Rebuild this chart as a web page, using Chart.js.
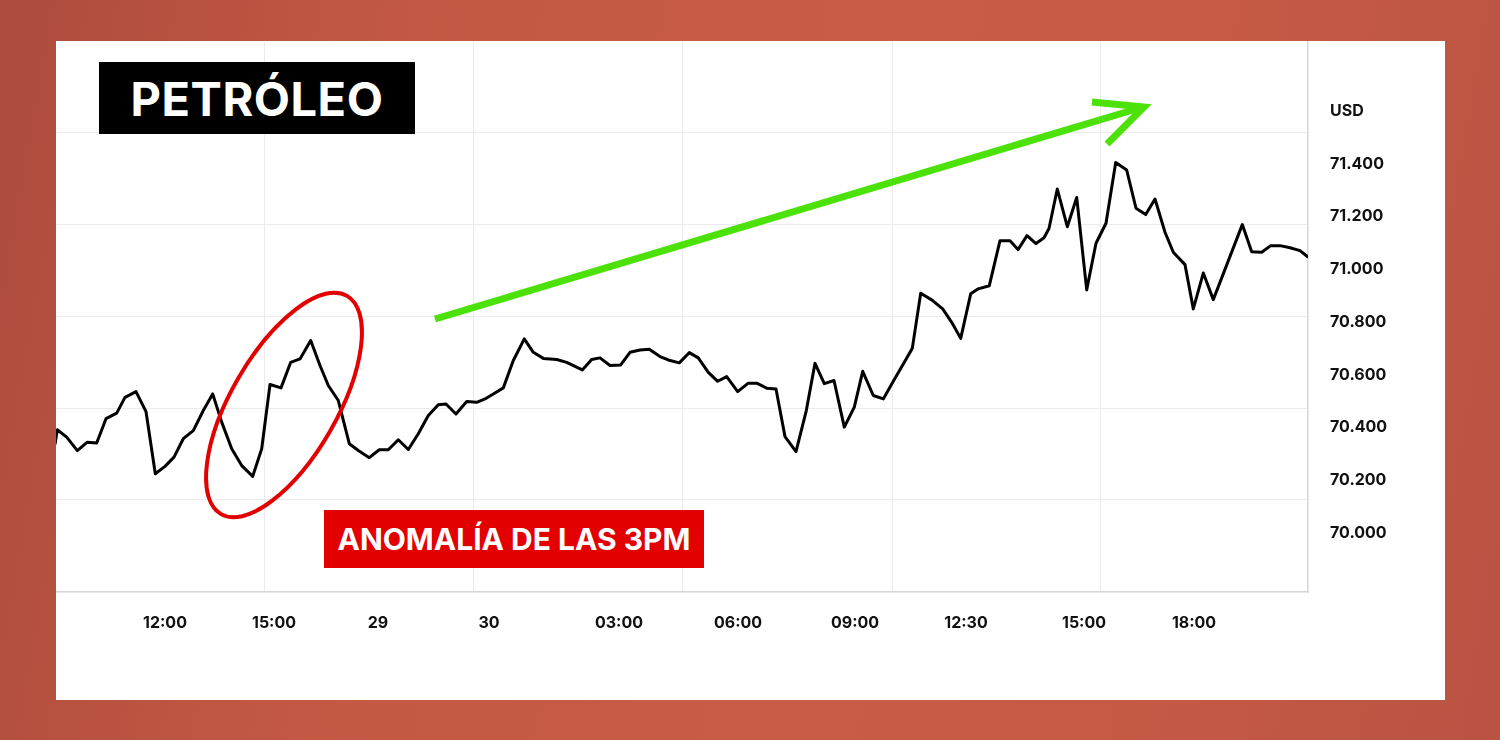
<!DOCTYPE html>
<html lang="es">
<head>
<meta charset="utf-8">
<title>Petróleo</title>
<script src="https://cdn.jsdelivr.net/npm/chart.js@4.4.0/dist/chart.umd.min.js"></script>
<style>
    html, body {
        margin: 0;
        padding: 0;
        width: 1500px;
        height: 740px;
        overflow: hidden;
    }
    body {
        position: relative;
        background: linear-gradient(100deg, #ad4c3d 0%, #c25843 25%, #c95c46 55%, #c65a45 75%, #b95343 100%);
        font-family: 'Inter', 'Noto Sans', sans-serif;
    }
    .card {
        position: absolute;
        left: 56px;
        top: 41px;
        width: 1389px;
        height: 659px;
        background: #fff;
    }
    .card canvas {
        position: absolute;
        left: 0;
        top: 0;
    }
    .tag {
        position: absolute;
        display: flex;
        align-items: center;
        justify-content: center;
        color: #fff;
        font-weight: 700;
        white-space: nowrap;
    }
    .tag.title {
        left: 99px;
        top: 62px;
        width: 316px;
        height: 72px;
        background: #000;
        font-size: 47px;
        letter-spacing: 0.5px;
    }
    .tag.note {
        left: 324px;
        top: 510px;
        width: 380px;
        height: 58px;
        background: #e30000;
        font-size: 30px;
    }
    svg.marks {
        position: absolute;
        left: 0;
        top: 0;
        pointer-events: none;
    }
</style>
</head>
<body>
<div class="card">
    <canvas id="chart" width="1389" height="659"></canvas>
</div>
<svg class="marks" width="1500" height="740">
    <ellipse cx="284" cy="405" rx="126" ry="53" transform="rotate(-60 284 405)"
             fill="none" stroke="#e20000" stroke-width="4"/>
    <line x1="435" y1="319" x2="1143" y2="107" stroke="#4de10a" stroke-width="7"/>
    <polyline points="1092,102 1144,107 1107,144" fill="none" stroke="#4de10a" stroke-width="7"/>
</svg>
<div class="tag title">PETRÓLEO</div>
<div class="tag note">ANOMALÍA DE LAS 3PM</div>

<script>
// position along the session (arbitrary time units) and oil price in USD
const timePos = [
    -0.2, 0.03, 0.97, 2.03, 3.03, 3.97, 4.9, 5.97, 6.8, 7.9,
    8.9, 9.83, 10.8, 11.7, 12.63, 13.63, 14.63, 15.57, 16.47, 17.47,
    18.47, 19.57, 20.47, 21.3, 22.4, 23.37, 24.3, 25.37, 26.3, 27.13,
    28.13, 29.23, 30.13, 31.23, 32.23, 33.13, 34.13, 35.13, 36.13, 37.13,
    38.13, 38.9, 39.9, 40.97, 41.97, 42.8, 43.63, 44.63, 45.63, 46.73,
    47.63, 48.63, 49.97, 50.97, 52.53, 53.47, 54.3, 55.3, 56.37, 57.3,
    58.3, 59.23, 60.3, 61.13, 62.23, 63.23, 64.13, 65.13, 66.07, 66.97,
    68.07, 69.13, 69.97, 70.97, 71.9, 72.8, 73.9, 74.93, 75.8, 76.73,
    77.7, 78.73, 79.73, 80.57, 81.63, 82.63, 83.63, 84.63, 85.53, 86.37,
    87.47, 88.57, 89.47, 90.37, 91.37, 92.13, 93.23, 94.3, 95.3, 96.1,
    97.0, 97.9, 98.7, 99.2, 100.03, 101.03, 101.97, 102.97, 103.9, 104.9,
    105.87, 106.97, 107.9, 108.87, 109.8, 110.8, 111.63, 112.8, 113.63, 114.63,
    115.63, 118.53, 119.47, 120.47, 121.37, 122.3, 123.3, 124.3, 125.13
];

const priceUsd = [
    70.335, 70.391, 70.363, 70.312, 70.344, 70.341, 70.433, 70.454, 70.514, 70.536,
    70.460, 70.224, 70.252, 70.287, 70.357, 70.388, 70.464, 70.527, 70.420, 70.319,
    70.255, 70.214, 70.319, 70.563, 70.550, 70.647, 70.660, 70.730, 70.635, 70.559,
    70.502, 70.338, 70.312, 70.285, 70.315, 70.315, 70.353, 70.316, 70.376, 70.445,
    70.486, 70.489, 70.451, 70.498, 70.495, 70.508, 70.527, 70.550, 70.654, 70.736,
    70.685, 70.662, 70.658, 70.647, 70.618, 70.658, 70.664, 70.635, 70.637, 70.685,
    70.694, 70.697, 70.669, 70.656, 70.645, 70.684, 70.664, 70.609, 70.575, 70.593,
    70.536, 70.568, 70.568, 70.549, 70.546, 70.365, 70.308, 70.464, 70.643, 70.566,
    70.578, 70.401, 70.477, 70.613, 70.521, 70.508, 70.575, 70.641, 70.700, 70.909,
    70.884, 70.850, 70.799, 70.738, 70.907, 70.926, 70.938, 71.109, 71.109, 71.075,
    71.128, 71.098, 71.120, 71.155, 71.305, 71.162, 71.273, 70.922, 71.099, 71.175,
    71.406, 71.377, 71.232, 71.208, 71.267, 71.141, 71.065, 71.018, 70.850, 70.986,
    70.885, 71.170, 71.067, 71.065, 71.090, 71.090, 71.082, 71.071, 71.046
];

// x axis labels and where they sit
const tickPos = [10.8, 21.7, 32.1, 43.2, 56.2, 68.1, 79.8, 90.9, 102.7, 113.7];
const tickLabels = ['12:00', '15:00', '29', '30', '03:00', '06:00', '09:00', '12:30', '15:00', '18:00'];

// y axis labels (the top slot holds the currency)
const priceTicks = [70.0, 70.2, 70.4, 70.6, 70.8, 71.0, 71.2, 71.4, 71.6];

// background grid, not aligned with the labels in the original
const gridTime = [20.7, 41.6, 62.5, 83.5, 104.3];
const gridPrice = [70.125, 70.472, 70.821, 71.169, 71.518];

const X_MIN = -0.1;
const X_MAX = 125.1;
const Y_MIN = 69.775;
const Y_MAX = 71.864;

const tickFont = { family: 'Inter', size: 16, weight: '700' };
const gridColor = '#ebebeb';

const points = timePos.map((t, i) => ({ x: t, y: priceUsd[i] }));

new Chart(document.getElementById('chart'), {
    type: 'line',
    data: {
        datasets: [{
            data: points,
            borderColor: '#000',
            borderWidth: 3,
            borderJoinStyle: 'round',
            pointRadius: 0,
            tension: 0,
            fill: false
        }]
    },
    options: {
        responsive: false,
        animation: false,
        layout: { padding: 0 },
        plugins: {
            legend: { display: false },
            tooltip: { enabled: false }
        },
        scales: {
            x: {
                type: 'linear',
                position: 'bottom',
                min: X_MIN,
                max: X_MAX,
                afterBuildTicks: (axis) => {
                    axis.ticks = tickPos.map((v) => ({ value: v }));
                },
                afterFit: (axis) => {
                    axis.height = 108;
                },
                grid: { drawOnChartArea: false, drawTicks: false },
                border: { color: '#d6d6d6', width: 1.5 },
                ticks: {
                    autoSkip: false,
                    maxRotation: 0,
                    padding: 22,
                    color: '#111',
                    font: tickFont,
                    callback: (value, index) => tickLabels[index]
                }
            },
            xGrid: {
                type: 'linear',
                position: 'top',
                min: X_MIN,
                max: X_MAX,
                afterBuildTicks: (axis) => {
                    axis.ticks = gridTime.map((v) => ({ value: v }));
                },
                afterFit: (axis) => {
                    axis.height = 0;
                },
                grid: { color: gridColor, drawTicks: false },
                border: { display: false },
                ticks: { display: false }
            },
            y: {
                type: 'linear',
                position: 'right',
                min: Y_MIN,
                max: Y_MAX,
                afterBuildTicks: (axis) => {
                    axis.ticks = priceTicks.map((v) => ({ value: v }));
                },
                afterFit: (axis) => {
                    axis.width = 137;
                },
                // the gap to the labels comes from an invisible tick mark,
                // so that no tick padding is added on top of the plot
                grid: {
                    drawOnChartArea: false,
                    drawTicks: true,
                    tickLength: 22,
                    tickColor: 'transparent'
                },
                border: { color: '#d6d6d6', width: 1.5 },
                ticks: {
                    padding: 0,
                    color: '#111',
                    font: { ...tickFont, lineHeight: 0.1 },
                    callback: (value) => (value > 71.55 ? 'USD' : value.toFixed(3))
                }
            },
            yGrid: {
                type: 'linear',
                position: 'left',
                min: Y_MIN,
                max: Y_MAX,
                afterBuildTicks: (axis) => {
                    axis.ticks = gridPrice.map((v) => ({ value: v }));
                },
                afterFit: (axis) => {
                    axis.width = 0;
                },
                grid: { color: gridColor, drawTicks: false },
                border: { display: false },
                ticks: { display: false }
            }
        }
    }
});
</script>
</body>
</html>
